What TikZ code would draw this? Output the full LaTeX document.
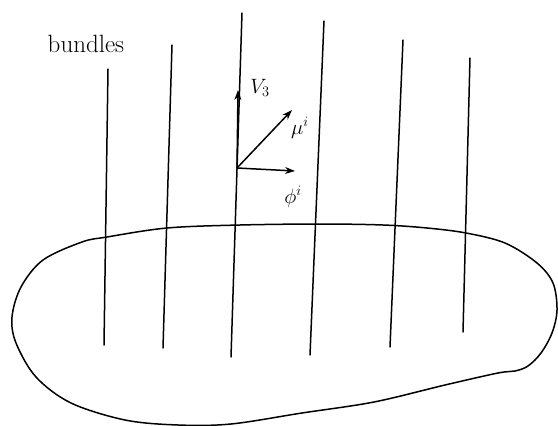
\documentclass[tikz,border=0pt]{standalone}
\usepackage{amsmath,amssymb}
\usepackage{tikz}
\usetikzlibrary{arrows.meta}

\begin{document}
\begin{tikzpicture}[x=1pt, y=-1pt, line width=1.5pt, line cap=round, line join=round,
    vec/.style={-{Stealth[length=10pt, width=7pt]}},
    lab/.style={font=\fontsize{20}{24}\selectfont}]
    \useasboundingbox (0,0) rectangle (558,426);

    % --- Fibres ---
    \foreach \i/\xa/\ya/\xb/\yb in {1/108/69/104/345, 2/172/45/163/348, 3/242/13/231/357,
                                    4/324/21/310/355, 5/403/40/390/347, 6/470/58/463/332} {
        \coordinate (t\i) at (\xa,\ya);
        \coordinate (b\i) at (\xb,\yb);
        \draw (t\i) -- (b\i);
    }
    \node[font=\fontsize{25}{30}\selectfont, anchor=base west, inner sep=0pt] (bundles) at (47,52) {bundles};

    % --- Base space ---
    \draw plot[smooth cycle, tension=0.55] coordinates {
        (107,237) (167,228) (240,225) (320,224) (383,225) (427,228) (466,233)
        (505,243) (537,263) (553,283) (557,310) (552,333) (541,353) (528,366)
        (515,371) (498,373) (445,385) (374,402) (302,413) (231,424) (178,425)
        (125,420) (71,403) (36,377) (16,343) (12,317) (21,287) (43,260) (82,242)};

    % --- Vectors at a point ---
    \coordinate (o) at (237,168);
    \coordinate (v3) at (238,90);
    \coordinate (mu) at (292,110);
    \coordinate (phi) at (295,171);
    \draw[vec] (o) -- (v3);
    \draw[vec] (o) -- (mu);
    \draw[vec] (o) -- (phi);
    \node[lab] (v3lab) at (260,88) {$V_3$};
    \node[lab] (mulab) at (300,128) {$\mu^i$};
    \node[lab] (philab) at (293,197) {$\phi^i$};
\end{tikzpicture}
\end{document}
